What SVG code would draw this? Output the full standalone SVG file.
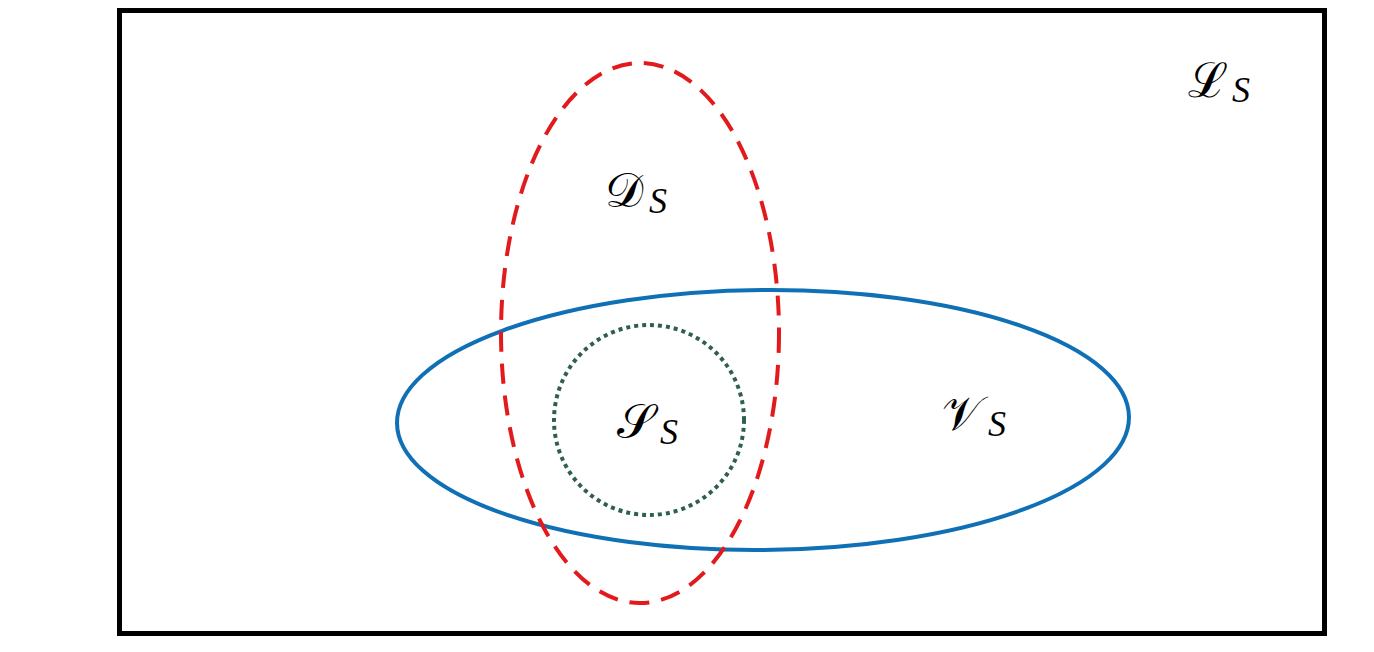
<svg xmlns="http://www.w3.org/2000/svg" width="1374" height="652" viewBox="0 0 1374 652">
<style>
.lbl{font-family:"DejaVu Serif","Liberation Serif",serif;font-size:48px;fill:#000}
.sub{font-family:"Liberation Serif",serif;font-style:italic;font-size:36px}
</style>
<rect width="1374" height="652" fill="#fff"/>
<g id="LS"><rect x="119.5" y="10.5" width="1205" height="623" fill="none" stroke="#000" stroke-width="5"/>
<text class="lbl" x="1188" y="97">ℒ<tspan class="sub" dx="4" dy="5">S</tspan></text></g>
<g id="VS"><ellipse cx="763" cy="420" rx="366" ry="130" fill="none" stroke="#1070b5" stroke-width="4" transform="rotate(-0.5 763 420)"/>
<text class="lbl" x="942" y="430">𝒱<tspan class="sub" dx="6" dy="6">S</tspan></text></g>
<g id="DS"><ellipse cx="640" cy="333" rx="139" ry="270" fill="none" stroke="#e31a1c" stroke-width="4" stroke-dasharray="20,12"/>
<text class="lbl" x="605" y="207">𝒟<tspan class="sub" dx="6" dy="6">S</tspan></text></g>
<g id="SS"><circle cx="649" cy="420" r="95" fill="none" stroke="#2f5f4f" stroke-width="4" stroke-dasharray="4,4"/>
<text class="lbl" x="617" y="438">𝒮<tspan class="sub" dx="6" dy="6">S</tspan></text></g>
<g id="connectors"/>
</svg>
